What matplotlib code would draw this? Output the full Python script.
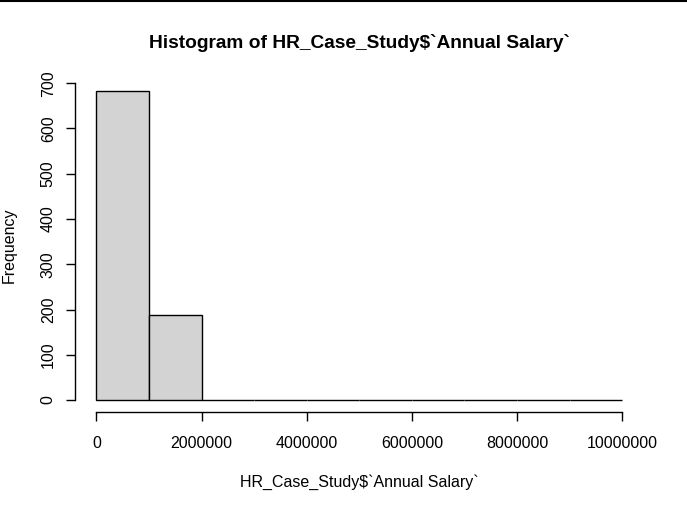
import matplotlib
matplotlib.use("Agg")
import matplotlib.pyplot as plt
from matplotlib.lines import Line2D
import numpy as np

bin_edges = [0, 1000000, 2000000, 3000000, 4000000, 5000000,
             6000000, 7000000, 8000000, 9000000, 10000000]
counts = [682, 189, 0, 0, 0, 0, 0, 0, 0, 0]
x_ticks = [0, 2000000, 4000000, 6000000, 8000000, 10000000]
y_ticks = [0, 100, 200, 300, 400, 500, 600, 700]
title = "Histogram of HR_Case_Study$`Annual Salary`"
xlabel = "HR_Case_Study$`Annual Salary`"
ylabel = "Frequency"

plt.rcParams['font.family'] = ['Liberation Sans', 'DejaVu Sans']
fs = 11.5

fig = plt.figure(figsize=(6.87, 5.11), dpi=100)
ax = fig.add_axes([75.3/687, (511-412.4)/511, 568/687, (412.4-79)/511])

lefts = np.array(bin_edges[:-1])
widths = np.diff(bin_edges)
ax.bar(lefts, counts, width=widths, align='edge', color='#d3d3d3',
       edgecolor='black', linewidth=1.0)

ax.set_xlim(-0.04*1e7, 1.04*1e7)
ymax = max(counts)
ax.set_ylim(-0.04*ymax, 1.04*ymax)

for s in ['top', 'right']:
    ax.spines[s].set_visible(False)
ax.spines['left'].set_bounds(0, 700)
ax.spines['bottom'].set_bounds(0, 10000000)
ax.spines['left'].set_linewidth(1.0)
ax.spines['bottom'].set_linewidth(1.0)

ax.set_xticks(x_ticks)
ax.set_xticklabels([str(v) for v in x_ticks], fontsize=fs)
ax.set_yticks(y_ticks)
ax.set_yticklabels([str(v) for v in y_ticks], fontsize=fs, rotation=90, va='center')
ax.tick_params(axis='both', length=6.5, width=1.0, color='black')
ax.tick_params(axis='x', pad=10.5)
ax.tick_params(axis='y', pad=7.5)

ax.set_xlabel(xlabel, fontsize=fs, labelpad=17)
ax.set_ylabel(ylabel, fontsize=fs, labelpad=17)
fig.text(0.5 * (75.3 + 643.3) / 687, 1 - 43/511, title, ha='center', va='center',
         fontsize=13.8, fontweight='bold')

fig.add_artist(Line2D([0, 1], [1 - 0.8/511, 1 - 0.8/511], color='black',
                      linewidth=1.5, transform=fig.transFigure))

fig.savefig("out.png", dpi=100)
